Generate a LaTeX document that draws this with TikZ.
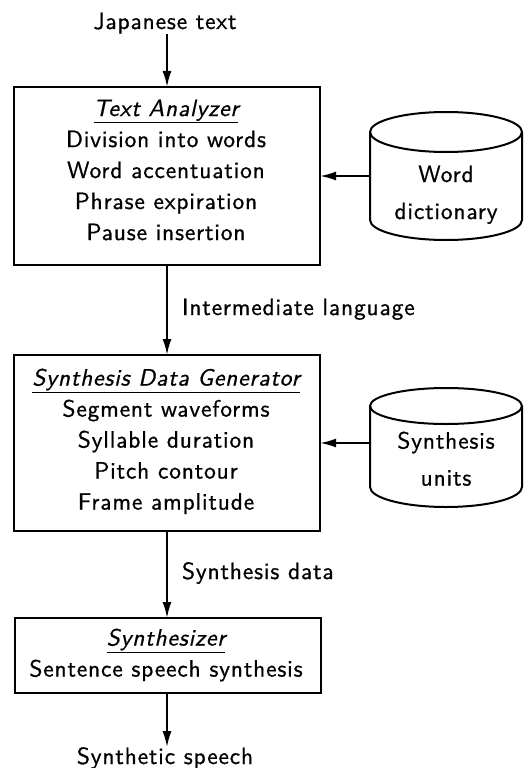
\documentclass[tikz,border=0pt]{standalone}
\usepackage{fontspec}
\setsansfont{lmsans10}[Extension=.otf, UprightFont=*-regular, ItalicFont=*-oblique, BoldFont=*-bold, LetterSpace=3.5, FakeBold=0.8]
\usetikzlibrary{arrows.meta}
\begin{document}
\begin{tikzpicture}[x=1pt,y=-1pt,
  font=\sffamily\fontsize{23.5}{31}\selectfont,
  every node/.style={inner sep=0pt, outer sep=0pt},
  blockbox/.style={draw, line width=2pt, minimum width=306pt},
  blocktext/.style={align=center, anchor=north},
  cyltext/.style={align=center, anchor=north, font=\sffamily\fontsize{23.5}{37}\selectfont},
  flow/.style={line width=2pt, -{Latex[length=16pt,width=9pt]}},
  cylline/.style={line width=2pt},
  cylarea/.style={minimum width=152pt},
]
\useasboundingbox (0,0) rectangle (526,768);

% main boxes
\node[blockbox, minimum height=178pt] (ta) at (167,176) {};
\node[blockbox, minimum height=176pt] (sg) at (167,443) {};
\node[blockbox, minimum height=75pt] (sy) at (167.5,655.5) {};

\node[blocktext] (tat) at (166,99.7)
  {\underline{\itshape Text Analyzer}\\Division into words\\Word accentuation\\Phrase expiration\\Pause insertion};
\node[blocktext] (sgt) at (166,368.7)
  {\underline{\itshape Synthesis Data Generator}\\Segment waveforms\\Syllable duration\\Pitch contour\\Frame amplitude};
\node[blocktext] (syt) at (166,628.7)
  {\underline{\itshape Synthesizer}\\Sentence speech synthesis};

% input / output / flow labels
\node[anchor=base] (jp) at (165,29) {Japanese text};
\node[anchor=base] (out) at (165,764) {Synthetic speech};
\node[anchor=base west] (il) at (182,315) {Intermediate language};
\node[anchor=base west] (sd) at (182,579) {Synthesis data};

% cylinders
\node[cylarea, minimum height=128pt] (wd) at (446,176) {};
\draw[cylline] ([yshift=-20pt]wd.north) ellipse [x radius=76pt, y radius=20pt];
\draw[cylline] ([yshift=-20pt]wd.north west) -- ([yshift=20pt]wd.south west)
  arc[start angle=180, end angle=360, x radius=76pt, y radius=20pt]
  -- ([yshift=-20pt]wd.north east);
\node[cyltext] (wdt) at (446,165.7) {Word\\dictionary};

\node[cylarea, minimum height=119pt] (su) at (446,447.5) {};
\draw[cylline] ([yshift=-18pt]su.north) ellipse [x radius=76pt, y radius=18pt];
\draw[cylline] ([yshift=-18pt]su.north west) -- ([yshift=20pt]su.south west)
  arc[start angle=180, end angle=360, x radius=76pt, y radius=20pt]
  -- ([yshift=-18pt]su.north east);
\node[cyltext] (sut) at (446,431.7) {Synthesis\\units};

% connectors
\draw[flow] (jp.south -| ta.north) -- (ta.north);
\draw[flow] (ta.south) -- (sg.north);
\draw[flow] (sg.south) -- (sg.south |- sy.north);
\draw[flow] (sg.south |- sy.south) -- (sg.south |- out.north);
\draw[flow] (wd.west |- ta.east) -- (ta.east);
\draw[flow] (su.west |- sg.east) -- (sg.east);
\end{tikzpicture}
\end{document}
